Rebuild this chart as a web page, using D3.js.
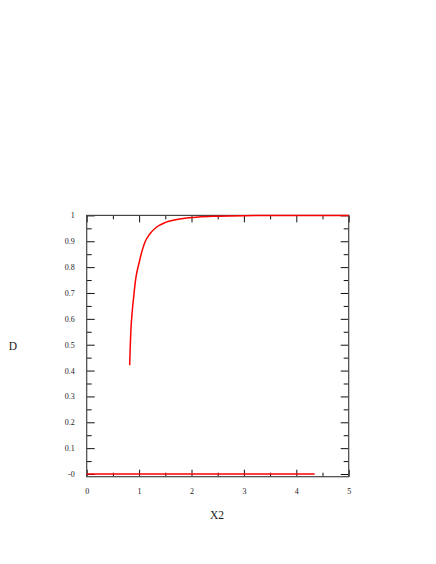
<!DOCTYPE html>
<html>
    <head>
        <script src="https://d3js.org/d3.v7.min.js"></script>
        <style>
            body { margin:0; background:white; font-family:"Liberation Serif", "DejaVu Serif", serif; }
            svg { display:block; }
            .tick line { stroke:#111; }
        </style>
    </head>
    <body>
        <svg></svg>
    </body>
    <script>
        // curve
        const curveX = [0.82, 0.833, 0.845, 0.871, 0.903, 0.941, 0.998, 1.05, 1.113, 1.208, 1.336, 1.494, 1.653, 1.81, 2.13, 2.5, 3.0, 4.0, 5.0];
        const curveY = [0.421, 0.505, 0.562, 0.633, 0.698, 0.762, 0.815, 0.858, 0.897, 0.929, 0.955, 0.972, 0.981, 0.987, 0.994, 0.997, 0.999, 1.0, 1.0];
        // flat line on zero
        const flatX = [0, 4.35];
        const flatY = [0, 0];

        const xMajor = [0, 1, 2, 3, 4, 5];
        const xMinor = [0.5, 1.5, 2.5, 3.5, 4.5];
        const yMajor = [0, 0.1, 0.2, 0.3, 0.4, 0.5, 0.6, 0.7, 0.8, 0.9, 1];
        const yMinor = [0.05, 0.15, 0.25, 0.35, 0.45, 0.55, 0.65, 0.75, 0.85, 0.95];
        const yLabels = ['-0', '0.1', '0.2', '0.3', '0.4', '0.5', '0.6', '0.7', '0.8', '0.9', '1'];

        const width = 436, height = 564;
        const svg = d3.select('svg').attr('width', width).attr('height', height);
        const plotLeft = 86.7, plotRight = 348.7, plotTop = 215.4, plotBottom = 476.7;

        const xScale = d3.scaleLinear().domain([0, 5]).range([plotLeft, plotRight]);
        const yScale = d3.scaleLinear().domain([-0.0104, 1]).range([plotBottom, plotTop]);

        const serif = g => g.attr('font-family', '"Liberation Serif", "DejaVu Serif", serif')
                            .attr('font-size', 8)
                            .call(g => g.selectAll('text').attr('fill', '#222'));

        // ticks, all pointing inward
        svg.append('g').attr('transform', `translate(0,${plotBottom})`)
            .call(d3.axisBottom(xScale).tickValues(xMajor).tickSize(-7).tickFormat(d3.format('d')))
            .call(serif)
            .call(g => g.selectAll('text').attr('y', 17.5).attr('dy', 0));
        svg.append('g').attr('transform', `translate(0,${plotBottom})`)
            .call(d3.axisBottom(xScale).tickValues(xMinor).tickSize(-4).tickFormat(''));
        svg.append('g').attr('transform', `translate(0,${plotTop})`)
            .call(d3.axisTop(xScale).tickValues(xMajor).tickSize(-7).tickFormat(''));
        svg.append('g').attr('transform', `translate(0,${plotTop})`)
            .call(d3.axisTop(xScale).tickValues(xMinor).tickSize(-4).tickFormat(''));

        svg.append('g').attr('transform', `translate(${plotLeft},0)`)
            .call(d3.axisLeft(yScale).tickValues(yMajor).tickSize(-8).tickFormat((d, i) => yLabels[i]))
            .call(serif)
            .call(g => g.selectAll('text').attr('x', -12));
        svg.append('g').attr('transform', `translate(${plotLeft},0)`)
            .call(d3.axisLeft(yScale).tickValues(yMinor).tickSize(-5).tickFormat(''));
        svg.append('g').attr('transform', `translate(${plotRight},0)`)
            .call(d3.axisRight(yScale).tickValues(yMajor).tickSize(-8).tickFormat(''));
        svg.append('g').attr('transform', `translate(${plotRight},0)`)
            .call(d3.axisRight(yScale).tickValues(yMinor).tickSize(-5).tickFormat(''));

        svg.selectAll('.domain').remove();

        // frame
        svg.append('rect')
            .attr('x', plotLeft).attr('y', plotTop)
            .attr('width', plotRight - plotLeft).attr('height', plotBottom - plotTop)
            .attr('fill', 'none').attr('stroke', '#444').attr('stroke-width', 1.2);

        const line = d3.line().x(d => xScale(d[0])).y(d => yScale(d[1]));
        svg.append('path')
            .datum(flatX.map((x, i) => [x, flatY[i]]))
            .attr('d', line)
            .attr('fill', 'none').attr('stroke', '#ff0000').attr('stroke-width', 1.5);
        svg.append('path')
            .datum(curveX.map((x, i) => [x, curveY[i]]))
            .attr('d', line.curve(d3.curveMonotoneX))
            .attr('fill', 'none').attr('stroke', '#ff0000').attr('stroke-width', 1.5);

        // axis titles
        svg.append('text').attr('x', 217).attr('y', 519)
            .attr('text-anchor', 'middle').style('font-size', '11.5px').attr('fill', '#222')
            .text('X2');
        svg.append('text').attr('x', 13).attr('y', 350)
            .attr('text-anchor', 'middle').style('font-size', '11.5px').attr('fill', '#222')
            .text('D');
    </script>
</html>
